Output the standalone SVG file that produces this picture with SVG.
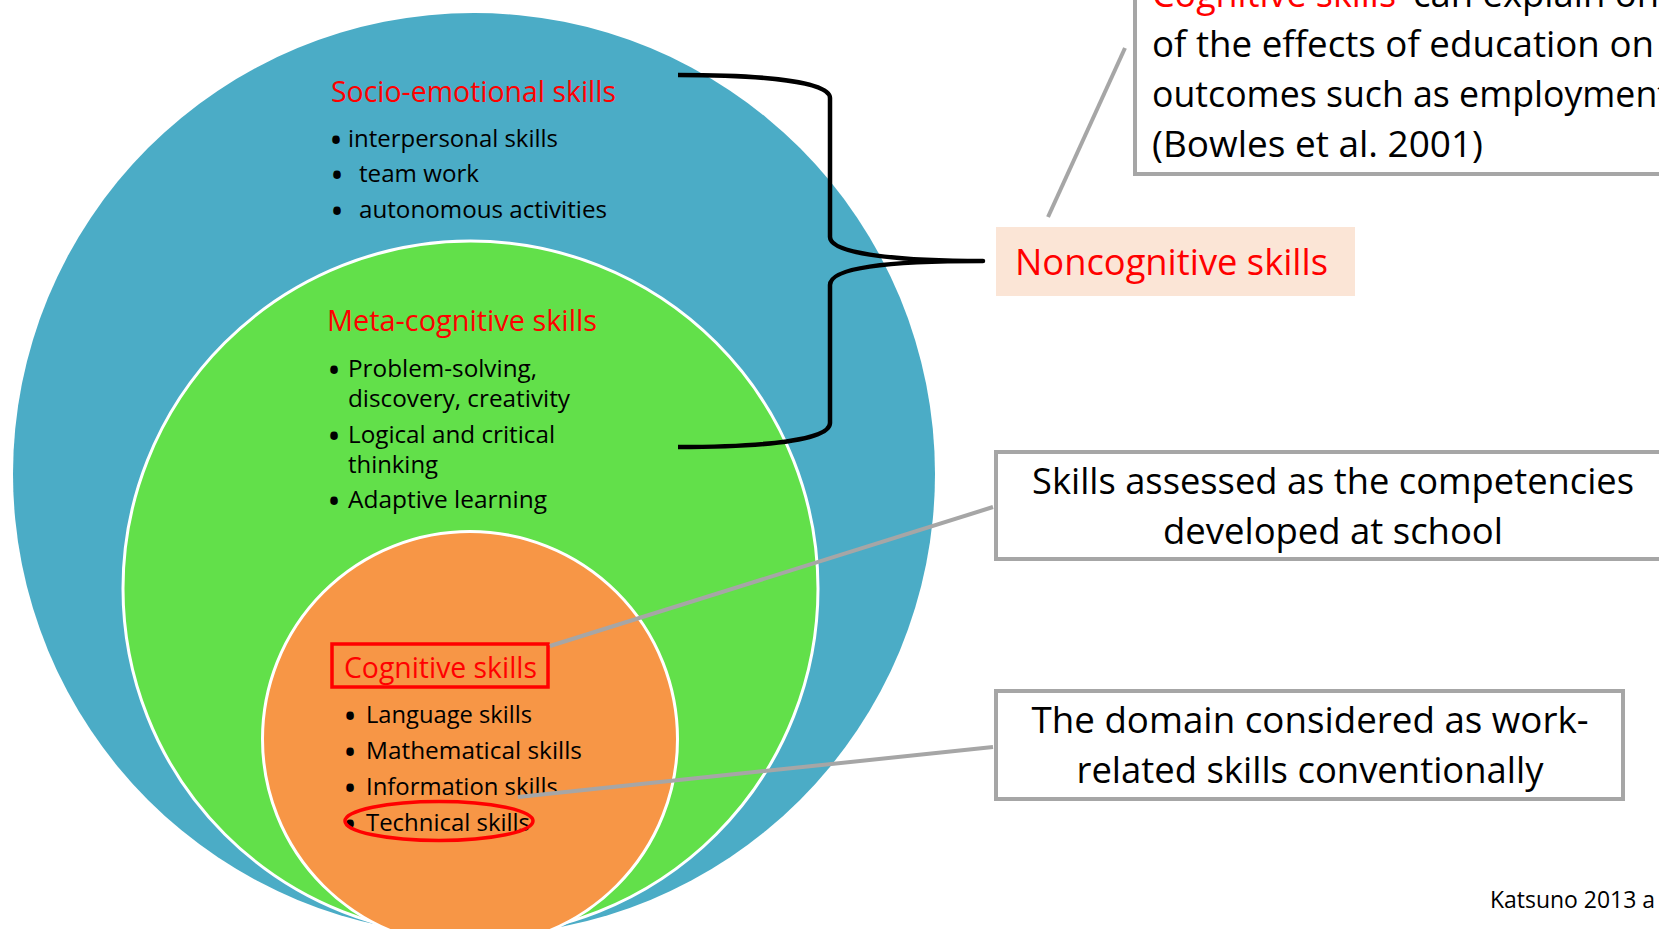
<svg xmlns="http://www.w3.org/2000/svg" width="1659" height="929" viewBox="0 0 1659 929">
<style>
text{font-family:"Open Sans","Noto Sans","Liberation Sans",sans-serif;fill:#000}
.title{font-size:29px;fill:#FF0000}
.body{font-size:24.5px}
.bul{font-size:36px;text-anchor:middle}
.big{font-size:37px}
.red{fill:#FF0000}
.box{fill:#FFFFFF;stroke:#A6A6A6;stroke-width:4}
.conn{stroke:#A6A6A6;stroke-width:4;fill:none}
.mark{fill:none;stroke:#FF0000;stroke-width:3.5}
</style>
<rect width="1659" height="929" fill="#FFFFFF"/>
<g id="socio-emotional">
<circle cx="474" cy="474" r="461" fill="#4BACC6"/>
<text class="title" x="331" y="102" textLength="285" lengthAdjust="spacingAndGlyphs">Socio-emotional skills</text>
<text class="bul" x="336" y="153">•</text>
<text class="body" x="348" y="147" textLength="210" lengthAdjust="spacingAndGlyphs">interpersonal skills</text>
<text class="bul" x="337" y="188">•</text>
<text class="body" x="359" y="182" textLength="120" lengthAdjust="spacingAndGlyphs">team work</text>
<text class="bul" x="337" y="224">•</text>
<text class="body" x="359" y="218" textLength="248" lengthAdjust="spacingAndGlyphs">autonomous activities</text>
</g>
<g id="meta-cognitive">
<circle cx="470.5" cy="588.5" r="347.5" fill="#62E04A" stroke="#FFFFFF" stroke-width="3"/>
<text class="title" x="327" y="331" textLength="270" lengthAdjust="spacingAndGlyphs">Meta-cognitive skills</text>
<text class="bul" x="334" y="383">•</text>
<text class="body" x="348" y="377" textLength="189" lengthAdjust="spacingAndGlyphs">Problem-solving,</text>
<text class="body" x="348" y="407" textLength="222" lengthAdjust="spacingAndGlyphs">discovery, creativity</text>
<text class="bul" x="334" y="449">•</text>
<text class="body" x="348" y="443" textLength="207" lengthAdjust="spacingAndGlyphs">Logical and critical</text>
<text class="body" x="348" y="473" textLength="90" lengthAdjust="spacingAndGlyphs">thinking</text>
<text class="bul" x="334" y="514">•</text>
<text class="body" x="348" y="508" textLength="199" lengthAdjust="spacingAndGlyphs">Adaptive learning</text>
</g>
<g id="cognitive">
<circle cx="470" cy="739" r="207.5" fill="#F79646" stroke="#FFFFFF" stroke-width="3"/>
<rect class="mark" x="332" y="644" width="216" height="43"/>
<text class="title" x="344" y="678" textLength="193" lengthAdjust="spacingAndGlyphs">Cognitive skills</text>
<text class="bul" x="350" y="729">•</text>
<text class="body" x="366" y="723" textLength="166" lengthAdjust="spacingAndGlyphs">Language skills</text>
<text class="bul" x="350" y="765">•</text>
<text class="body" x="366" y="759" textLength="216" lengthAdjust="spacingAndGlyphs">Mathematical skills</text>
<text class="bul" x="350" y="801">•</text>
<text class="body" x="366" y="795" textLength="192" lengthAdjust="spacingAndGlyphs">Information skills</text>
<text class="bul" x="350" y="837">•</text>
<text class="body" x="366" y="831" textLength="164" lengthAdjust="spacingAndGlyphs">Technical skills</text>
<ellipse class="mark" cx="439" cy="821" rx="94" ry="19.5"/>
</g>
<g id="noncognitive-label">
<rect x="996" y="227" width="359" height="69" fill="#FBE5D6"/>
<text class="big red" x="1015" y="275" textLength="313" lengthAdjust="spacingAndGlyphs">Noncognitive skills</text>
</g>
<g id="note-bowles">
<rect class="box" x="1135" y="-20" width="600" height="194"/>
<text class="big red" x="1152" y="7" textLength="244" lengthAdjust="spacingAndGlyphs">Cognitive skills</text>
<text class="big" x="1413" y="7" textLength="246" lengthAdjust="spacingAndGlyphs">can explain on</text>
<text class="big" x="1152" y="57" textLength="502" lengthAdjust="spacingAndGlyphs">of the effects of education on</text>
<text class="big" x="1152" y="107" textLength="518" lengthAdjust="spacingAndGlyphs">outcomes such as employment</text>
<text class="big" x="1152" y="157" textLength="331" lengthAdjust="spacingAndGlyphs">(Bowles et al. 2001)</text>
</g>
<g id="note-school">
<rect class="box" x="996" y="452" width="720" height="107"/>
<text class="big" x="1333" y="494" text-anchor="middle" textLength="602" lengthAdjust="spacingAndGlyphs">Skills assessed as the competencies</text>
<text class="big" x="1333" y="544" text-anchor="middle" textLength="340" lengthAdjust="spacingAndGlyphs">developed at school</text>
</g>
<g id="note-work">
<rect class="box" x="996" y="691" width="627" height="108"/>
<text class="big" x="1310" y="733" text-anchor="middle" textLength="557" lengthAdjust="spacingAndGlyphs">The domain considered as work-</text>
<text class="big" x="1310" y="783" text-anchor="middle" textLength="467" lengthAdjust="spacingAndGlyphs">related skills conventionally</text>
</g>
<g id="source">
<text x="1490" y="908" font-size="23.5" textLength="165" lengthAdjust="spacingAndGlyphs">Katsuno 2013 a</text>
</g>
<g id="connectors">
<path d="M678,75 C765,75 830,82 830,98 L830,237 C830,252 885,261 983,261 C885,261 830,268 830,285 L830,423 C830,440 765,447 678,447" fill="none" stroke="#000000" stroke-width="4.5" stroke-linejoin="round"/>
<line class="conn" x1="1048" y1="217" x2="1125" y2="48"/>
<line class="conn" x1="550" y1="646" x2="993" y2="507"/>
<line class="conn" x1="518" y1="797" x2="993" y2="747"/>
</g>
</svg>
